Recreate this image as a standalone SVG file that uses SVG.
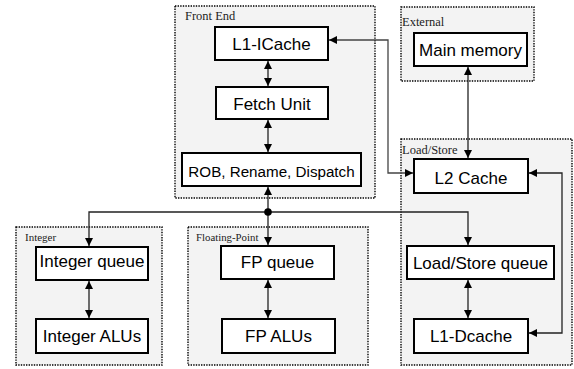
<svg xmlns="http://www.w3.org/2000/svg" width="574" height="369" viewBox="0 0 574 369">
<style>
.grp{fill:#f3f3f3;stroke:#000;stroke-width:1.4;stroke-dasharray:1.4 1.2}
.box{fill:#fff;stroke:#000;stroke-width:2}
.t{font-family:"Liberation Sans",Arial,sans-serif;font-size:17px;fill:#000;text-anchor:middle}
.lbl{font-family:"Liberation Serif","Times New Roman",serif;font-size:12.5px;fill:#222}
.c{fill:none;stroke:#222;stroke-width:1.3}
</style>
<defs>
<marker id="ah" markerUnits="userSpaceOnUse" markerWidth="9" markerHeight="8" refX="8" refY="4" orient="auto-start-reverse">
<path d="M0,0 L8,4 L0,8 z" fill="#000"/>
</marker>
</defs>
<g id="frontend">
<rect class="grp" x="175" y="6" width="200" height="192"/>
<text class="lbl" x="185" y="20">Front End</text>
</g>
<g id="external">
<rect class="grp" x="401" y="7" width="133" height="74"/>
<text class="lbl" x="402" y="26">External</text>
</g>
<g id="loadstore">
<rect class="grp" x="401" y="139" width="171" height="226"/>
<text class="lbl" x="402" y="154">Load/Store</text>
</g>
<g id="integer">
<rect class="grp" x="16" y="227" width="146" height="138"/>
<text class="lbl" x="25" y="241" style="font-size:11px">Integer</text>
</g>
<g id="floatingpoint">
<rect class="grp" x="188" y="227" width="180" height="138"/>
<text class="lbl" x="196" y="241" style="font-size:10.8px">Floating-Point</text>
</g>
<g id="l1icache">
<rect class="box" x="215" y="27" width="113" height="33"/>
<text class="t" x="271.5" y="50">L1-ICache</text>
</g>
<g id="fetch">
<rect class="box" x="216" y="87" width="112" height="32"/>
<text class="t" x="272" y="110">Fetch Unit</text>
</g>
<g id="rob">
<rect class="box" x="182" y="153" width="179" height="33"/>
<text class="t" x="271.5" y="177" style="font-size:15.2px">ROB, Rename, Dispatch</text>
</g>
<g id="mainmem">
<rect class="box" x="414" y="33" width="113" height="33"/>
<text class="t" x="470.5" y="56">Main memory</text>
</g>
<g id="l2cache">
<rect class="box" x="414" y="159" width="114" height="34"/>
<text class="t" x="471" y="184">L2 Cache</text>
</g>
<g id="lsq">
<rect class="box" x="407" y="246" width="147" height="33"/>
<text class="t" x="480.5" y="269">Load/Store queue</text>
</g>
<g id="l1dcache">
<rect class="box" x="414" y="319" width="114" height="34"/>
<text class="t" x="471" y="342">L1-Dcache</text>
</g>
<g id="intqueue">
<rect class="box" x="36" y="247" width="112" height="33"/>
<text class="t" x="92" y="267">Integer queue</text>
</g>
<g id="intalus">
<rect class="box" x="36" y="319" width="112" height="34"/>
<text class="t" x="92" y="342">Integer ALUs</text>
</g>
<g id="fpqueue">
<rect class="box" x="221" y="246" width="113" height="33"/>
<text class="t" x="277.5" y="268">FP queue</text>
</g>
<g id="fpalus">
<rect class="box" x="222" y="319" width="113" height="34"/>
<text class="t" x="278.5" y="342">FP ALUs</text>
</g>
<g id="connectors">
<line class="c" x1="268" y1="61" x2="268" y2="86" marker-start="url(#ah)" marker-end="url(#ah)"/>
<line class="c" x1="268" y1="120" x2="268" y2="152" marker-start="url(#ah)" marker-end="url(#ah)"/>
<line class="c" x1="268" y1="212" x2="268" y2="187" marker-end="url(#ah)"/>
<line class="c" x1="268" y1="212" x2="268" y2="245" marker-end="url(#ah)"/>
<line class="c" x1="268" y1="280" x2="268" y2="318" marker-start="url(#ah)" marker-end="url(#ah)"/>
<polyline class="c" style="stroke:#444" points="329,40 388,40 388,173 413,173" marker-start="url(#ah)" marker-end="url(#ah)"/>
<line class="c" x1="468" y1="67" x2="468" y2="158" marker-start="url(#ah)" marker-end="url(#ah)"/>
<polyline class="c" points="529,173 562,173 562,333 529,333" marker-start="url(#ah)" marker-end="url(#ah)"/>
<line class="c" x1="468" y1="280" x2="468" y2="318" marker-start="url(#ah)" marker-end="url(#ah)"/>
<polyline class="c" points="89,246 89,212 468,212 468,245" marker-start="url(#ah)" marker-end="url(#ah)"/>
<line class="c" x1="89" y1="281" x2="89" y2="318" marker-start="url(#ah)" marker-end="url(#ah)"/>
<circle cx="268" cy="212" r="3.8" fill="#000"/>
</g>
</svg>
